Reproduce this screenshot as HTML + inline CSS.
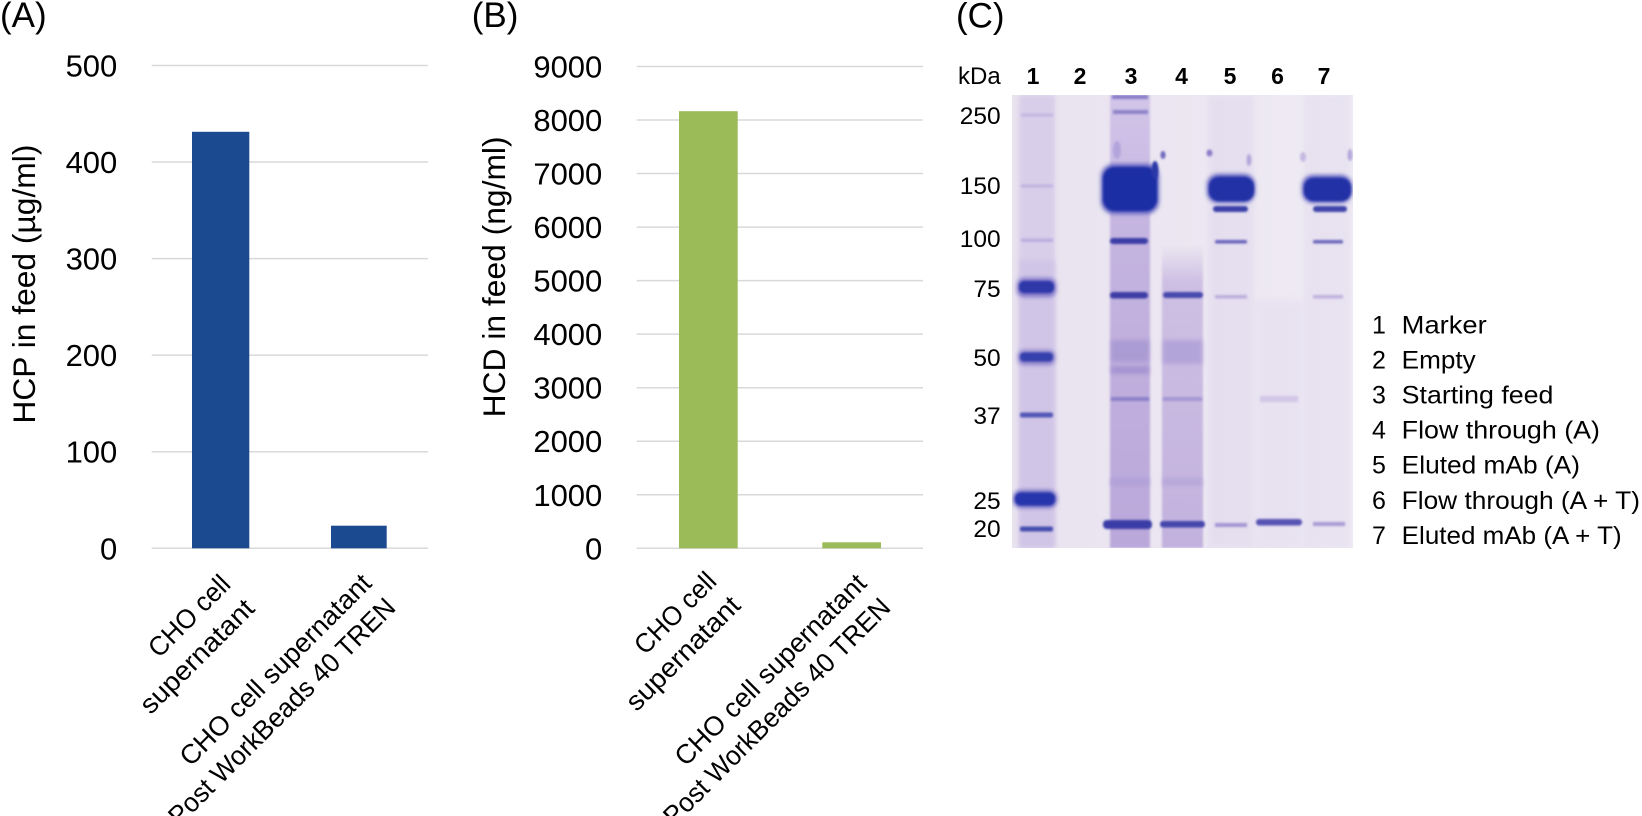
<!DOCTYPE html>
<html>
<head>
<meta charset="utf-8">
<style>
  html, body { margin: 0; padding: 0; background: #ffffff; }
  svg { display: block; }
  text { font-family: "Liberation Sans", "DejaVu Sans", sans-serif; fill: #000; }
</style>
</head>
<body>
<svg width="1642" height="816" viewBox="0 0 1642 816" xmlns="http://www.w3.org/2000/svg">
  <defs>
    <filter id="b1" x="-30%" y="-100%" width="160%" height="300%"><feGaussianBlur stdDeviation="1.1"/></filter>
    <filter id="b2" x="-30%" y="-100%" width="160%" height="300%"><feGaussianBlur stdDeviation="2.2"/></filter>
    <filter id="b3" x="-30%" y="-30%" width="160%" height="160%"><feGaussianBlur stdDeviation="3.5"/></filter>
    <linearGradient id="gelbg" x1="0" y1="0" x2="1" y2="0">
      <stop offset="0" stop-color="#e8e3ef"/>
      <stop offset="0.45" stop-color="#ebe6f1"/>
      <stop offset="1" stop-color="#efebf4"/>
    </linearGradient>
    <linearGradient id="l4" x1="0" y1="0" x2="0" y2="1">
      <stop offset="0" stop-color="#c9bae2" stop-opacity="0"/>
      <stop offset="0.12" stop-color="#c6b6e0" stop-opacity="0.8"/>
      <stop offset="1" stop-color="#c2b1de" stop-opacity="1"/>
    </linearGradient>
    <linearGradient id="l3" x1="0" y1="0" x2="0" y2="1">
      <stop offset="0" stop-color="#d2c5e8"/>
      <stop offset="0.3" stop-color="#c4b4e0"/>
      <stop offset="1" stop-color="#bba8db"/>
    </linearGradient>
    <clipPath id="gelclip"><rect x="1012" y="95" width="341" height="453"/></clipPath>
  </defs>

  <!-- ================= Panel A ================= -->
  <text x="0" y="27" font-size="35">(A)</text>
  <g stroke="#d9d9d9" stroke-width="1.5">
    <line x1="151.7" y1="65.5" x2="428" y2="65.5"/>
    <line x1="151.7" y1="162.06" x2="428" y2="162.06"/>
    <line x1="151.7" y1="258.62" x2="428" y2="258.62"/>
    <line x1="151.7" y1="355.18" x2="428" y2="355.18"/>
    <line x1="151.7" y1="451.74" x2="428" y2="451.74"/>
    <line x1="151.7" y1="548.3" x2="428" y2="548.3"/>
  </g>
  <g font-size="31" text-anchor="end">
    <text x="117.3" y="76.5">500</text>
    <text x="117.3" y="173">400</text>
    <text x="117.3" y="269.6">300</text>
    <text x="117.3" y="366.2">200</text>
    <text x="117.3" y="462.7">100</text>
    <text x="117.3" y="559.3">0</text>
  </g>
  <rect x="192" y="131.8" width="57.3" height="416.5" fill="#1c4a91"/>
  <rect x="331" y="525.7" width="55.7" height="22.6" fill="#1c4a91"/>
  <text transform="translate(35,423.6) rotate(-90)" font-size="31.5" textLength="279" lengthAdjust="spacingAndGlyphs">HCP in feed (µg/ml)</text>
  <g transform="translate(232,586) rotate(-45)" font-size="27" text-anchor="end">
    <text x="0" y="0" textLength="103" lengthAdjust="spacingAndGlyphs">CHO cell</text>
    <text x="0" y="34" textLength="149" lengthAdjust="spacingAndGlyphs">supernatant</text>
  </g>
  <g transform="translate(373,585) rotate(-45)" font-size="27" text-anchor="end">
    <text x="0" y="0" textLength="258" lengthAdjust="spacingAndGlyphs">CHO cell supernatant</text>
    <text x="0" y="34" textLength="308" lengthAdjust="spacingAndGlyphs">Post WorkBeads 40 TREN</text>
  </g>

  <!-- ================= Panel B ================= -->
  <text x="471.7" y="27" font-size="35">(B)</text>
  <g stroke="#d9d9d9" stroke-width="1.5">
    <line x1="636.7" y1="66.5" x2="923" y2="66.5"/>
    <line x1="636.7" y1="120.03" x2="923" y2="120.03"/>
    <line x1="636.7" y1="173.56" x2="923" y2="173.56"/>
    <line x1="636.7" y1="227.1" x2="923" y2="227.1"/>
    <line x1="636.7" y1="280.63" x2="923" y2="280.63"/>
    <line x1="636.7" y1="334.17" x2="923" y2="334.17"/>
    <line x1="636.7" y1="387.7" x2="923" y2="387.7"/>
    <line x1="636.7" y1="441.23" x2="923" y2="441.23"/>
    <line x1="636.7" y1="494.77" x2="923" y2="494.77"/>
    <line x1="636.7" y1="548.3" x2="923" y2="548.3"/>
  </g>
  <g font-size="31" text-anchor="end">
    <text x="602.3" y="77.5">9000</text>
    <text x="602.3" y="131">8000</text>
    <text x="602.3" y="184.6">7000</text>
    <text x="602.3" y="238.1">6000</text>
    <text x="602.3" y="291.6">5000</text>
    <text x="602.3" y="345.2">4000</text>
    <text x="602.3" y="398.7">3000</text>
    <text x="602.3" y="452.2">2000</text>
    <text x="602.3" y="505.8">1000</text>
    <text x="602.3" y="559.3">0</text>
  </g>
  <rect x="679" y="111.2" width="58.7" height="437.1" fill="#9bbb59"/>
  <rect x="822.3" y="542.3" width="58.7" height="6" fill="#9bbb59"/>
  <text transform="translate(505,417.4) rotate(-90)" font-size="31.5" textLength="281" lengthAdjust="spacingAndGlyphs">HCD in feed (ng/ml)</text>
  <g transform="translate(718,583) rotate(-45)" font-size="27" text-anchor="end">
    <text x="0" y="0" textLength="103" lengthAdjust="spacingAndGlyphs">CHO cell</text>
    <text x="0" y="34" textLength="149" lengthAdjust="spacingAndGlyphs">supernatant</text>
  </g>
  <g transform="translate(868,585) rotate(-45)" font-size="27" text-anchor="end">
    <text x="0" y="0" textLength="258" lengthAdjust="spacingAndGlyphs">CHO cell supernatant</text>
    <text x="0" y="34" textLength="308" lengthAdjust="spacingAndGlyphs">Post WorkBeads 40 TREN</text>
  </g>

  <!-- ================= Panel C ================= -->
  <text x="956" y="27.5" font-size="35">(C)</text>
  <text x="1000.7" y="84" font-size="24" text-anchor="end">kDa</text>
  <g font-size="23" font-weight="bold" text-anchor="middle">
    <text x="1033" y="84">1</text>
    <text x="1080" y="84">2</text>
    <text x="1131" y="84">3</text>
    <text x="1181.5" y="84">4</text>
    <text x="1230" y="84">5</text>
    <text x="1277.5" y="84">6</text>
    <text x="1324" y="84">7</text>
  </g>
  <g font-size="24.5" text-anchor="end">
    <text x="1000.7" y="123.8">250</text>
    <text x="1000.7" y="193.8">150</text>
    <text x="1000.7" y="247.1">100</text>
    <text x="1000.7" y="297.1">75</text>
    <text x="1000.7" y="366.1">50</text>
    <text x="1000.7" y="423.8">37</text>
    <text x="1000.7" y="508.8">25</text>
    <text x="1000.7" y="537.1">20</text>
  </g>

  <!-- gel -->
  <rect x="1012" y="95" width="341" height="453" fill="url(#gelbg)"/>
  <g clip-path="url(#gelclip)">
    <!-- lane smears -->
    <rect x="1019" y="95" width="36" height="453" fill="#d4c9e8" opacity="0.8" filter="url(#b2)"/>
    <rect x="1019" y="260" width="36" height="288" fill="#cdc0e5" opacity="0.6" filter="url(#b2)"/>
    <rect x="1110" y="95" width="40" height="453" fill="url(#l3)" filter="url(#b1)"/>
    <rect x="1162" y="245" width="41" height="303" fill="url(#l4)" filter="url(#b1)"/>
    <rect x="1208" y="95" width="46" height="453" fill="#ddd5ec" opacity="0.45" filter="url(#b2)"/>
    <rect x="1304" y="95" width="47" height="453" fill="#ddd5ec" opacity="0.35" filter="url(#b2)"/>
    <rect x="1255" y="300" width="48" height="248" fill="#e2dbef" opacity="0.5" filter="url(#b3)"/>

    <!-- lane 1 marker bands -->
    <rect x="1021" y="113.5" width="32" height="3" fill="#c4b7e2" filter="url(#b1)"/>
    <rect x="1021" y="184.5" width="32" height="3" fill="#bfb1e0" filter="url(#b1)"/>
    <rect x="1021" y="238.5" width="32" height="3.5" fill="#bcaedf" filter="url(#b1)"/>
    <rect x="1017" y="278" width="39" height="19" rx="7" fill="#7e74c8" filter="url(#b2)"/>
    <rect x="1019" y="281" width="35" height="12" rx="5" fill="#2d39a9" filter="url(#b1)"/>
    <rect x="1018" y="350" width="37" height="15" rx="6" fill="#8a80cc" filter="url(#b2)"/>
    <rect x="1020" y="352.5" width="33" height="9" rx="4" fill="#3440ac" filter="url(#b1)"/>
    <rect x="1020" y="412.5" width="33" height="5" rx="2" fill="#5157b6" filter="url(#b1)"/>
    <rect x="1013" y="490" width="44" height="18" rx="8" fill="#6f6cc4" filter="url(#b2)"/>
    <rect x="1015" y="492.5" width="40" height="13" rx="6" fill="#2535ab" filter="url(#b1)"/>
    <rect x="1020" y="526.5" width="33" height="5" rx="2" fill="#454dae" filter="url(#b1)"/>

    <!-- lane 3 -->
    <rect x="1112" y="95" width="36" height="4" fill="#8a7dc8" filter="url(#b1)"/>
    <rect x="1113" y="110" width="35" height="4" fill="#8e82ca" filter="url(#b1)"/>
    <ellipse cx="1117" cy="150" rx="4" ry="9" fill="#b2a5db" filter="url(#b1)"/>
    <ellipse cx="1163" cy="155" rx="2.5" ry="4" fill="#6e68bd" filter="url(#b1)"/>
    <rect x="1101" y="164" width="58" height="50" rx="13" fill="#5d5fc0" filter="url(#b2)"/>
    <rect x="1103" y="167" width="54" height="44" rx="12" fill="#1f2fa4" filter="url(#b1)"/>
    <ellipse cx="1155" cy="170" rx="3.5" ry="9" fill="#2a38a8" filter="url(#b1)"/>
    <rect x="1110" y="238" width="38" height="6" rx="3" fill="#3b3ea6" filter="url(#b1)"/>
    <rect x="1110" y="292" width="38" height="6.5" rx="3" fill="#3c3ea6" filter="url(#b1)"/>
    <rect x="1111" y="340" width="38" height="22" fill="#a596d2" opacity="0.8" filter="url(#b2)"/>
    <rect x="1111" y="366" width="38" height="8" fill="#9d8ecf" opacity="0.8" filter="url(#b2)"/>
    <rect x="1111" y="397" width="38" height="4" fill="#8d80c9" filter="url(#b1)"/>
    <rect x="1111" y="478" width="38" height="8" fill="#b0a1d8" filter="url(#b2)"/>
    <rect x="1103" y="520" width="49" height="9" rx="4" fill="#3a3ca7" filter="url(#b1)"/>

    <!-- lane 4 -->
    <rect x="1163" y="292" width="40" height="6" rx="3" fill="#4748ad" filter="url(#b1)"/>
    <rect x="1163" y="340" width="39" height="24" fill="#ad9ed7" opacity="0.8" filter="url(#b2)"/>
    <rect x="1163" y="397" width="39" height="4" fill="#a497d3" filter="url(#b1)"/>
    <rect x="1163" y="478" width="39" height="8" fill="#b6a8da" filter="url(#b2)"/>
    <rect x="1160" y="521" width="45" height="6.5" rx="3" fill="#4446ab" filter="url(#b1)"/>

    <!-- lane 5 -->
    <ellipse cx="1209.5" cy="153" rx="3" ry="3.5" fill="#8a7dc9" filter="url(#b1)"/>
    <ellipse cx="1249" cy="160" rx="2.5" ry="6" fill="#b4a7da" filter="url(#b1)"/>
    <rect x="1207" y="174" width="48" height="29" rx="11" fill="#5d5fc0" filter="url(#b2)"/>
    <rect x="1209" y="177" width="45" height="24" rx="10" fill="#2131a6" filter="url(#b1)"/>
    <rect x="1213" y="206" width="35" height="6" rx="3" fill="#3a3fa8" filter="url(#b1)"/>
    <rect x="1215" y="240" width="32" height="3.5" rx="1.5" fill="#6864bb" filter="url(#b1)"/>
    <rect x="1215" y="295" width="32" height="3.5" fill="#bcaedd" filter="url(#b1)"/>
    <rect x="1215" y="523" width="32" height="4" fill="#a495d2" filter="url(#b1)"/>

    <!-- lane 6 -->
    <rect x="1260" y="396" width="38" height="6" fill="#d2c7e7" filter="url(#b1)"/>
    <rect x="1256" y="519" width="46" height="6.5" rx="3" fill="#5653b3" filter="url(#b1)"/>

    <!-- lane 7 -->
    <ellipse cx="1350" cy="155" rx="2.5" ry="6" fill="#b6a9da" filter="url(#b1)"/>
    <ellipse cx="1303" cy="157" rx="3" ry="5" fill="#c4b8e1" filter="url(#b1)"/>
    <rect x="1302" y="175" width="50" height="28" rx="11" fill="#5d5fc0" filter="url(#b2)"/>
    <rect x="1304" y="178" width="47" height="23" rx="10" fill="#2131a6" filter="url(#b1)"/>
    <rect x="1313" y="206" width="34" height="6" rx="3" fill="#4145aa" filter="url(#b1)"/>
    <rect x="1313" y="240" width="30" height="3.5" rx="1.5" fill="#6a66bb" filter="url(#b1)"/>
    <rect x="1313" y="295" width="30" height="3.5" fill="#bfb1de" filter="url(#b1)"/>
    <rect x="1313" y="522" width="32" height="4" fill="#a99bd4" filter="url(#b1)"/>
  </g>

  <!-- legend -->
  <g font-size="25">
    <text x="1372" y="333.3">1</text>
    <text x="1401.7" y="333.3" textLength="85" lengthAdjust="spacingAndGlyphs">Marker</text>
    <text x="1372" y="368.4">2</text>
    <text x="1401.7" y="368.4" textLength="74" lengthAdjust="spacingAndGlyphs">Empty</text>
    <text x="1372" y="403.5">3</text>
    <text x="1401.7" y="403.5" textLength="151.7" lengthAdjust="spacingAndGlyphs">Starting feed</text>
    <text x="1372" y="438.6">4</text>
    <text x="1401.7" y="438.6" textLength="198.3" lengthAdjust="spacingAndGlyphs">Flow through (A)</text>
    <text x="1372" y="473.7">5</text>
    <text x="1401.7" y="473.7" textLength="178.3" lengthAdjust="spacingAndGlyphs">Eluted mAb (A)</text>
    <text x="1372" y="508.8">6</text>
    <text x="1401.7" y="508.8" textLength="238.3" lengthAdjust="spacingAndGlyphs">Flow through (A + T)</text>
    <text x="1372" y="543.9">7</text>
    <text x="1401.7" y="543.9" textLength="220" lengthAdjust="spacingAndGlyphs">Eluted mAb (A + T)</text>
  </g>
</svg>
</body>
</html>
